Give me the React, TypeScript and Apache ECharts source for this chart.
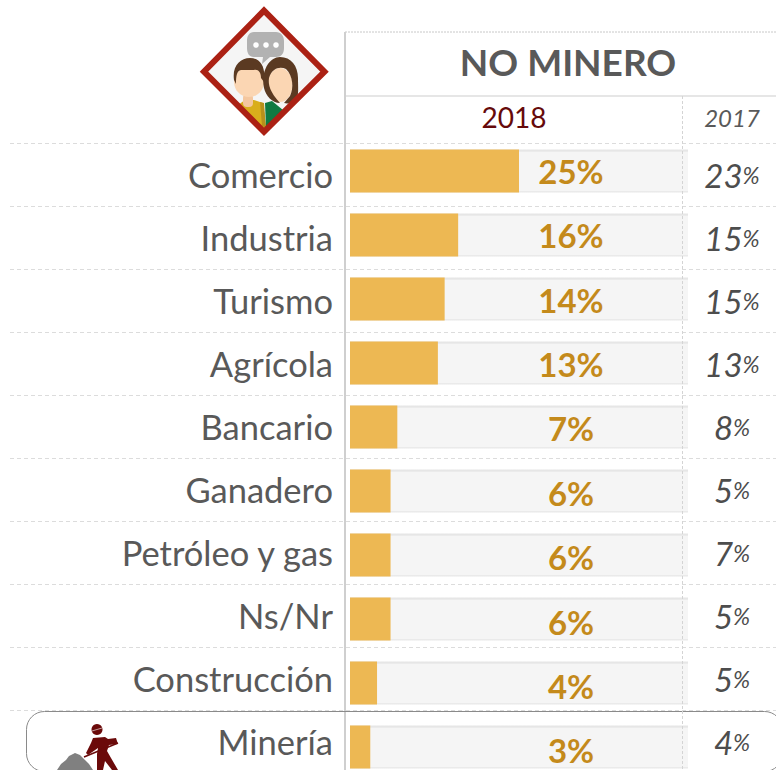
import React, { useEffect, useRef } from "react";
import * as echarts from "echarts";

const categories = ["Comercio", "Industria", "Turismo", "Agrícola", "Bancario", "Ganadero", "Petróleo y gas", "Ns/Nr", "Construcción", "Minería"];
const values2018 = [25, 16, 14, 13, 7, 6, 6, 6, 4, 3];
const values2017 = [23, 15, 15, 13, 8, 5, 7, 5, 5, 4];
const trackMax = 50;
const title = "NO MINERO";
const year2018 = "2018";
const year2017 = "2017";
const FONT = "Lato, Carlito, sans-serif";

echarts.graphic.registerShape("womanHair", echarts.graphic.extendPath("M280 57 C291 57 298 66 298 78 C298 88 299 96 296 100 C293 103 288 104 284 103 L290 96 C294 88 293 76 286 69 C280 66 272 68 269 78 C268 85 270 92 280 103 C272 103 266 96 264 88 C262 78 264 70 268 64 C271 60 275 57 280 57 Z", {}));
echarts.graphic.registerShape("manHair", echarts.graphic.extendPath("M234 80 C232 66 240 58 250 58 C260 58 266 66 264 82 L261 78 C261 72 258 69 254 70 L241 70 C237 71 236 75 236 84 Z", {}));
echarts.graphic.registerShape("bubble", echarts.graphic.extendPath("M254 32 L276 32 C281 32 284 36 284 41 L284 48 C284 54 281 57 276 57 L270 57 L262 64 L263 57 L254 57 C249 57 247 53 247 48 L247 41 C247 36 249 32 254 32 Z", {}));

const poly = (points: number[][], fill: string, z = 50) => ({ type: "polygon", z, shape: { points }, style: { fill } });
const diamond = [[204, 71.7], [264, 10.6], [324.5, 71.7], [264, 131.8]];

const graphicElements: any[] = [
  { type: "line", z: 1, shape: { x1: 345, y1: 32, x2: 776, y2: 32 }, style: { stroke: "#c8c8c8", lineWidth: 1, lineDash: [2, 1] } },
  { type: "line", z: 1, shape: { x1: 345, y1: 96, x2: 776, y2: 96 }, style: { stroke: "#e6e6e6", lineWidth: 2 } },
  { type: "line", z: 1, shape: { x1: 345, y1: 32, x2: 345, y2: 800 }, style: { stroke: "#cfcfcf", lineWidth: 2 } },
  { type: "line", z: 40, shape: { x1: 682.5, y1: 96, x2: 682.5, y2: 800 }, style: { stroke: "#d4d4d4", lineWidth: 1, lineDash: [3, 2] } },
  { type: "text", z: 60, x: 568, y: 61, style: { text: title, font: `bold 37px ${FONT}`, fill: "#595959", align: "center", verticalAlign: "middle" } },
  { type: "text", z: 60, x: 514, y: 117, style: { text: year2018, font: `28px ${FONT}`, fill: "#660a0a", align: "center", verticalAlign: "middle" } },
  { type: "text", z: 60, x: 732, y: 117, style: { text: year2017, font: `italic 24px ${FONT}`, fill: "#595959", align: "center", verticalAlign: "middle" } },
  { type: "rect", z: 30, shape: { x: 26.5, y: 711.5, width: 756, height: 60, r: 18 }, style: { fill: "none", stroke: "#8a8a8a", lineWidth: 1 } },
  // people icon
  { type: "polygon", z: 50, shape: { points: diamond }, style: { fill: "#f5f5f5" } },
  { type: "bubble", z: 51, style: { fill: "#b2b2b2" } },
  ...[256, 266, 276].map((cx) => ({ type: "circle", z: 52, shape: { cx, cy: 45, r: 2.8 }, style: { fill: "#ffffff" } })),
  poly([[238, 105], [245, 100], [254, 100], [263, 103], [266, 128], [264, 130]], "#d9ae1c", 51),
  poly([[260, 102], [264, 103], [266, 128], [262, 126]], "#b8901a", 52),
  { type: "rect", z: 53, shape: { x: 243, y: 94, width: 10, height: 13, r: 4 }, style: { fill: "#f4c79f" } },
  { type: "ellipse", z: 54, shape: { cx: 249, cy: 82, rx: 15, ry: 15 }, style: { fill: "#fbd6b3" } },
  { type: "manHair", z: 55, style: { fill: "#5b3a22" } },
  poly([[265, 103], [272, 101], [283, 110], [266, 128]], "#0f7a42", 56),
  { type: "ellipse", z: 57, shape: { cx: 280, cy: 85, rx: 12.5, ry: 17 }, style: { fill: "#fbd6b3" } },
  { type: "womanHair", z: 58, style: { fill: "#5b3a22" } },
  { type: "polygon", z: 59, shape: { points: diamond }, style: { fill: "none", stroke: "#ab2114", lineWidth: 6, lineJoin: "miter" } },
  // worker icon
  poly([[57, 770], [61, 764], [66, 760], [69, 756], [75, 753], [80, 755], [85, 760], [89, 764], [93, 770]], "#808080", 50),
  { type: "circle", z: 51, shape: { cx: 97, cy: 729.5, r: 5.5 }, style: { fill: "#6b0a0a" } },
  { type: "line", z: 52, shape: { x1: 92, y1: 731, x2: 102, y2: 728 }, style: { stroke: "#ffffff", lineWidth: 0.6 } },
  poly([[93, 738], [105, 737], [108, 739], [116, 738], [118, 744], [109, 745], [107, 751], [111, 758], [118, 770], [112, 770], [105, 761], [103, 770], [97, 770], [97, 754], [98, 748], [88, 755], [86, 753], [91, 743]], "#6b0a0a", 51),
  { type: "line", z: 52, shape: { x1: 118, y1: 743, x2: 84, y2: 757 }, style: { stroke: "#6b0a0a", lineWidth: 1.5 } },
];

function App() {
  const ref = useRef<HTMLDivElement>(null);
  useEffect(() => {
    document.body.style.margin = "0";
    const chart = echarts.init(ref.current!, null, { renderer: "svg" });
    const hiddenX = { type: "value", min: 0, max: trackMax, show: false };
    chart.setOption({
      animation: false,
      backgroundColor: "#ffffff",
      graphic: { elements: graphicElements },
      grid: [
        { left: 350, top: 139, width: 338, height: 640 },
        { left: 10, top: 143, width: 766, height: 630 },
        { left: 571, top: 138.6, width: 1, height: 644 },
      ],
      xAxis: [
        { ...hiddenX, gridIndex: 0 },
        { ...hiddenX, gridIndex: 1 },
        { ...hiddenX, gridIndex: 2 },
      ],
      yAxis: [
        { type: "category", gridIndex: 0, inverse: true, data: categories, show: false },
        {
          type: "category", gridIndex: 1, inverse: true, data: categories, position: "left",
          axisLine: { show: false }, axisTick: { show: false },
          splitLine: { show: true, lineStyle: { color: "#dcdcdc", type: [4, 3], width: 1 } },
          axisLabel: { margin: -323, align: "right", color: "#595959", fontFamily: FONT, fontSize: 34.5, interval: 0 },
        },
        {
          type: "category", gridIndex: 1, inverse: true, data: values2017, position: "right",
          axisLine: { show: false }, axisTick: { show: false }, splitLine: { show: false },
          axisLabel: {
            margin: -44, align: "center", interval: 0,
            formatter: (v: string) => `{n|${v}}{p|%}`,
            rich: {
              n: { fontFamily: FONT, fontStyle: "italic", fontSize: 33, color: "#4d4d4d" },
              p: { fontFamily: FONT, fontStyle: "italic", fontSize: 23, color: "#4d4d4d" },
            },
          },
        },
        {
          type: "category", gridIndex: 2, inverse: true, data: values2018, position: "left", z: 20,
          axisLine: { show: false }, axisTick: { show: false },
          axisLabel: {
            margin: 0, align: "center", interval: 0, color: "#c48a1b", fontFamily: FONT, fontWeight: "bold", fontSize: 33,
            formatter: (v: string) => `${v}%`,
          },
        },
      ],
      series: [
        {
          type: "bar", xAxisIndex: 0, yAxisIndex: 0, barWidth: 43, barGap: "-100%", silent: true,
          data: categories.map(() => trackMax),
          itemStyle: {
            color: {
              type: "linear", x: 0, y: 0, x2: 0, y2: 1,
              colorStops: [
                { offset: 0, color: "#e6e6e6" }, { offset: 0.04, color: "#e6e6e6" },
                { offset: 0.06, color: "#f5f5f5" }, { offset: 0.96, color: "#f5f5f5" },
                { offset: 0.98, color: "#e8e8e8" }, { offset: 1, color: "#e8e8e8" },
              ],
            },
          },
        },
        {
          type: "bar", xAxisIndex: 0, yAxisIndex: 0, barWidth: 43, barGap: "-100%",
          data: values2018, itemStyle: { color: "#edb853" },
        },
      ],
    });
    return () => chart.dispose();
  }, []);
  return (
    <div style={{ width: 776, height: 770, overflow: "hidden" }}>
      <div ref={ref} style={{ width: 776, height: 800 }} />
    </div>
  );
}

export default App;
